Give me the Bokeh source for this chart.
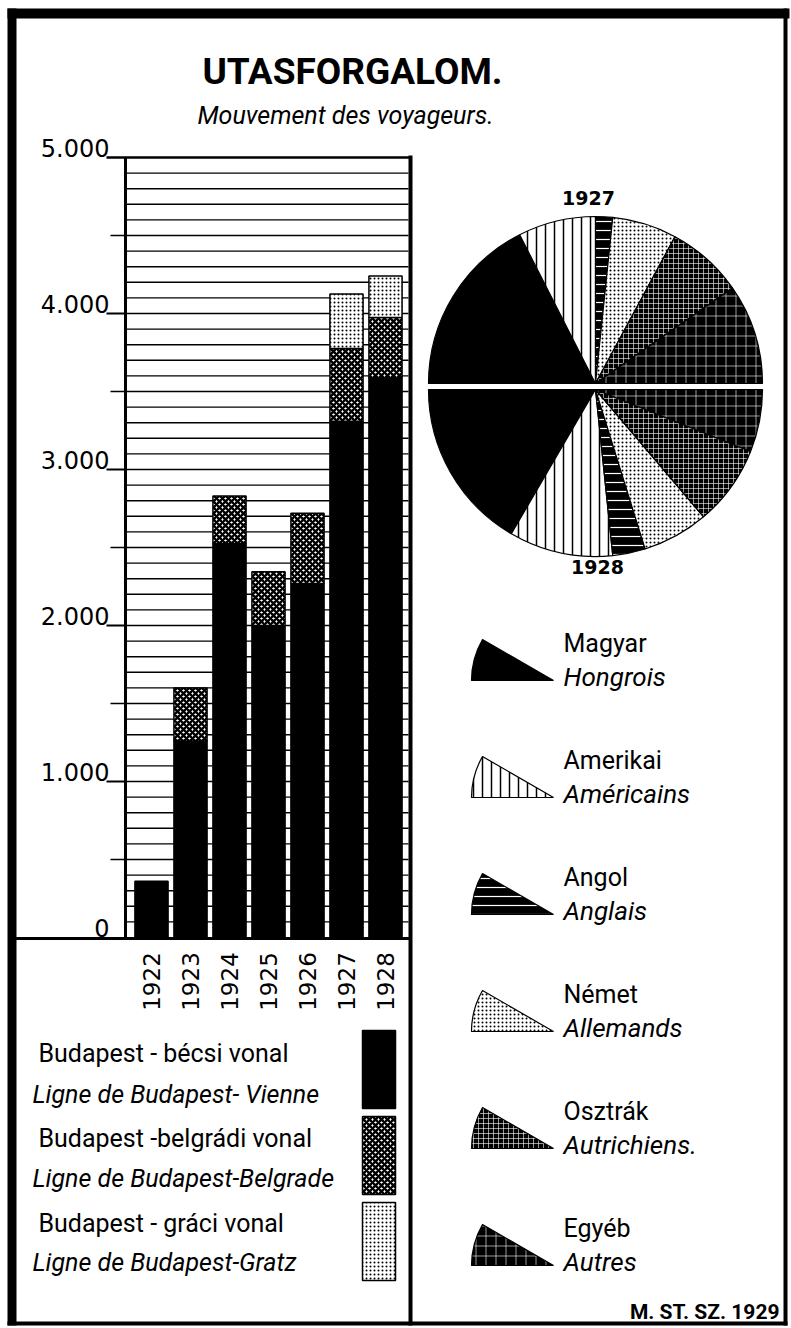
import numpy as np
from bokeh.plotting import figure
from bokeh.models import Range1d, ColumnDataSource
from bokeh.core.properties import value
from bokeh.embed import file_html
from bokeh.resources import INLINE

# ---------------- data ----------------
years = ["1922", "1923", "1924", "1925", "1926", "1927", "1928"]
vienna = [360, 1260, 2525, 2000, 2270, 3310, 3590]      # Budapest-bécsi vonal
belgrade = [0, 340, 305, 345, 450, 465, 385]            # Budapest-belgrádi vonal
gratz = [0, 0, 0, 0, 0, 350, 265]                       # Budapest-gráci vonal
y_ticks = [0, 1000, 2000, 3000, 4000, 5000]
y_tick_labels = ["0", "1.000", "2.000", "3.000", "4.000", "5.000"]

nat_hu = ["Magyar", "Amerikai", "Angol", "Német", "Osztrák", "Egyéb"]
nat_fr = ["Hongrois", "Américains", "Anglais", "Allemands", "Autrichiens.", "Autres"]
pie_1927 = [35.0, 15.0, 3.3, 12.5, 14.8, 19.4]
pie_1928 = [33.2, 20.1, 6.3, 12.8, 15.5, 12.1]

line_hu = ["Budapest - bécsi vonal", "Budapest -belgrádi vonal", "Budapest - gráci vonal"]
line_fr = ["Ligne de Budapest- Vienne", "Ligne de Budapest-Belgrade", "Ligne de Budapest-Gratz"]

title = "UTASFORGALOM."
subtitle = "Mouvement des voyageurs."
credit = "M. ST. SZ. 1929"

# ---------------- styles ----------------
NAT_FILL = ["black", "white", "black", "white", "black", "black"]
NAT_HATCH = [" ", "vertical_line", "horizontal_line", "dot", "cross", "cross"]
NAT_HCOL = ["black", "black", "white", "black", "white", "white"]
NAT_HSCALE = [8, 9, 9, 4, 5, 10]
NAT_HWEIGHT = [1, 1.5, 1.2, 1.2, 0.6, 0.6]

LINE_FILL = ["black", "white", "white"]
LINE_HATCH = [" ", "diagonal_cross", "dot"]
LINE_HCOL = ["black", "black", "black"]
LINE_HSCALE = [8, 6, 4]
LINE_HWEIGHT = [1, 2.4, 1.2]

W, H = 791, 1328
def Y(py):
    return H - py

p = figure(width=W, height=H, x_range=Range1d(0, W), y_range=Range1d(0, H),
           output_backend="svg", toolbar_location=None,
           x_axis_type=None, y_axis_type=None, min_border=0)
p.outline_line_color = None
p.background_fill_color = "white"
p.border_fill_color = "white"

# bar chart scales mapped into the left panel
BX0, BDX = 151.0, 39.0
PX_PER_UNIT = 0.156
ZERO_PY = 937.0
p.extra_x_ranges = {"bx": Range1d((0 - BX0) / BDX, (W - BX0) / BDX)}
p.extra_y_ranges = {"by": Range1d(-Y(ZERO_PY) / PX_PER_UNIT, (H - Y(ZERO_PY)) / PX_PER_UNIT)}
PL = (125 - BX0) / BDX
PR = (408 - BX0) / BDX

# grid lines every 100
gv = np.arange(100, 5000, 100)
p.segment(x0=[PL] * len(gv), x1=[PR] * len(gv), y0=gv, y1=gv, line_color="black",
          line_width=1.4, x_range_name="bx", y_range_name="by")

# stacked bars
xs = np.arange(len(years))
series = [vienna, belgrade, gratz]
bottom = np.zeros(len(years))
BW = 0.85
for k, s in enumerate(series):
    s = np.array(s, dtype=float)
    m = s > 0
    p.vbar(x=xs[m], bottom=bottom[m], top=(bottom + s)[m], width=BW,
           fill_color=LINE_FILL[k], hatch_pattern=LINE_HATCH[k], hatch_color=LINE_HCOL[k],
           hatch_scale=LINE_HSCALE[k], hatch_weight=LINE_HWEIGHT[k],
           line_color="black", line_width=1.5, x_range_name="bx", y_range_name="by")
    bottom = bottom + s

# plot frame (left border)
p.segment(x0=[PL], x1=[PL], y0=[0], y1=[5000], line_color="black", line_width=3,
          x_range_name="bx", y_range_name="by")
# minor ticks at 500s
mt = [500, 1500, 2500, 3500, 4500]
p.segment(x0=[110] * len(mt), x1=[125] * len(mt), y0=mt, y1=mt, line_color="black",
          line_width=1.5, y_range_name="by")
# underlines of the major labels
p.segment(x0=[106] * 5, x1=[125] * 5, y0=y_ticks[1:5], y1=y_ticks[1:5], line_color="black",
          line_width=2, y_range_name="by")
p.segment(x0=[106], x1=[410], y0=[5000], y1=[5000], line_color="black",
          line_width=2.5, y_range_name="by")
# y labels
p.text(x=[109] * len(y_ticks), y=y_ticks, text=y_tick_labels, y_range_name="by",
       text_align="right", text_baseline="bottom", y_offset=-1,
       text_font=value("DejaVu Sans"), text_font_size="24px", text_color="black")
# year labels (rotated)
p.text(x=xs, y=[Y(981)] * len(xs), text=years, x_range_name="bx", angle=np.pi / 2,
       text_align="center", text_baseline="middle",
       text_font=value("DejaVu Sans"), text_font_size="23px", text_color="black")

# ---------------- frame lines ----------------
p.segment(x0=[11.5], x1=[11.5], y0=[Y(8)], y1=[Y(1325)], line_color="black", line_width=9)
p.segment(x0=[7], x1=[789], y0=[Y(13)], y1=[Y(13)], line_color="black", line_width=10)
p.segment(x0=[785], x1=[785], y0=[Y(8)], y1=[Y(1325)], line_color="black", line_width=4)
p.segment(x0=[7], x1=[787], y0=[Y(1323)], y1=[Y(1323)], line_color="black", line_width=4)
p.segment(x0=[410], x1=[410], y0=[Y(155)], y1=[Y(1325)], line_color="black", line_width=4)
p.segment(x0=[14], x1=[410], y0=[Y(938)], y1=[Y(938)], line_color="black", line_width=3)

# ---------------- titles ----------------
p.text(x=[352], y=[Y(71)], text=[title], text_align="center", text_baseline="middle",
       text_font=value("Roboto"), text_font_style="bold", text_font_size="37px")
p.text(x=[345], y=[Y(115)], text=[subtitle], text_align="center", text_baseline="middle",
       text_font=value("Roboto"), text_font_style="italic", text_font_size="25px")

# ---------------- pie (two halves) ----------------
CX, CY, R = 595, 386, 167
GAP = 3
def half_pie(vals, top):
    v = np.array(vals, dtype=float)
    ang = v / v.sum() * np.pi
    cum = np.concatenate([[0], np.cumsum(ang)[:-1]])
    if top:
        end = np.pi - cum
        start = end - ang
        cy = Y(CY - GAP)
    else:
        start = np.pi + cum
        end = start + ang
        cy = Y(CY + GAP)
    src = ColumnDataSource(dict(start=start, end=end, fill=NAT_FILL, hatch=NAT_HATCH,
                                hcol=NAT_HCOL, hs=NAT_HSCALE, hw=NAT_HWEIGHT))
    p.wedge(x=CX, y=cy, radius=R, start_angle="start", end_angle="end", source=src,
            fill_color="fill", hatch_pattern="hatch", hatch_color="hcol",
            hatch_scale="hs", hatch_weight="hw", line_color="black", line_width=1.2)

half_pie(pie_1927, True)
half_pie(pie_1928, False)
p.text(x=[588], y=[Y(197)], text=["1927"], text_align="center", text_baseline="middle",
       text_font=value("DejaVu Sans"), text_font_style="bold", text_font_size="19px")
p.text(x=[597], y=[Y(566)], text=["1928"], text_align="center", text_baseline="middle",
       text_font=value("DejaVu Sans"), text_font_style="bold", text_font_size="19px")

# ---------------- pie legend ----------------
tips = [680 + 117 * i for i in range(len(nat_hu))]
lsrc = ColumnDataSource(dict(x=[553] * len(tips), y=[Y(t) for t in tips], fill=NAT_FILL,
                             hatch=NAT_HATCH, hcol=NAT_HCOL, hs=NAT_HSCALE, hw=NAT_HWEIGHT))
p.wedge(x="x", y="y", radius=82, start_angle=np.deg2rad(150), end_angle=np.pi, source=lsrc,
        fill_color="fill", hatch_pattern="hatch", hatch_color="hcol", hatch_scale="hs",
        hatch_weight="hw", line_color="black", line_width=1.2)
p.text(x=[563] * len(tips), y=[Y(t - 37) for t in tips], text=nat_hu, text_baseline="middle",
       text_font=value("Roboto"), text_font_size="25px")
p.text(x=[563] * len(tips), y=[Y(t - 4) for t in tips], text=nat_fr, text_baseline="middle",
       text_font=value("Roboto"), text_font_style="italic", text_font_size="26px")

# ---------------- bar legend ----------------
sw_top = [1030 + 86 * k for k in range(3)]
p.quad(left=[362] * 3, right=[395] * 3, top=[Y(t) for t in sw_top],
       bottom=[Y(t + 78) for t in sw_top], fill_color=LINE_FILL, hatch_pattern=LINE_HATCH,
       hatch_color=LINE_HCOL, hatch_scale=LINE_HSCALE, hatch_weight=LINE_HWEIGHT,
       line_color="black", line_width=1.5)
hu_y = [1053, 1138, 1223]
fr_y = [1094, 1178, 1262]
p.text(x=[38] * 3, y=[Y(v) for v in hu_y], text=line_hu, text_baseline="middle",
       text_font=value("Roboto"), text_font_size="25px")
p.text(x=[32] * 3, y=[Y(v) for v in fr_y], text=line_fr, text_baseline="middle",
       text_font=value("Roboto"), text_font_style="italic", text_font_size="25px")

p.text(x=[779], y=[Y(1311)], text=[credit], text_align="right", text_baseline="middle",
       text_font=value("Roboto"), text_font_style="bold", text_font_size="21px")

open("out.html", "w").write(file_html(p, INLINE))
